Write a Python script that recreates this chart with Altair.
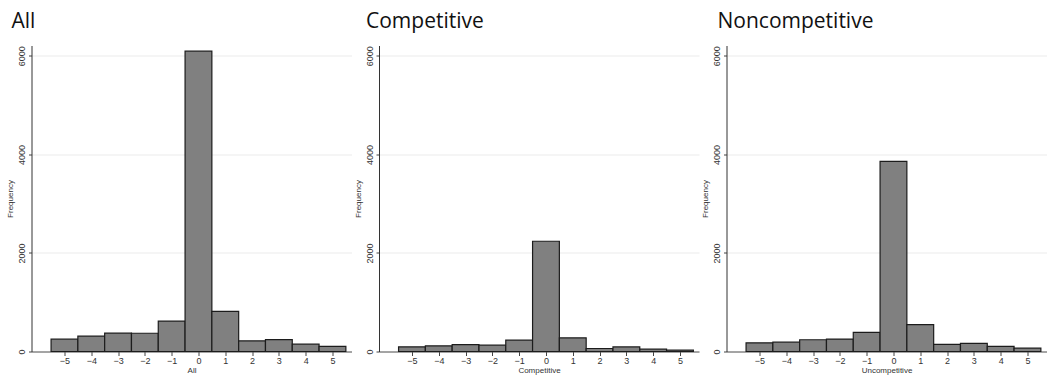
import altair as alt
import pandas as pd

# Histogram bins (integer values, unit-width bins centred on each integer)
bins = [-5, -4, -3, -2, -1, 0, 1, 2, 3, 4, 5]

# Frequencies per bin for each sample
all_counts = [250, 311, 372, 370, 616, 6095, 813, 216, 243, 148, 106]
comp_counts = [95, 115, 140, 128, 230, 2237, 277, 61, 92, 47, 27]
noncomp_counts = [177, 190, 238, 252, 388, 3858, 544, 143, 163, 102, 68]

panel_titles = ["All", "Competitive", "Noncompetitive"]
x_titles = ["All", "Competitive", "Uncompetitive"]
title_shift = [-20, -13, -9]

y_ticks = [0, 2000, 4000, 6000]

AXIS_FONT = "Liberation Sans"
TITLE_FONT = "Open Sans"


def panel(counts, heading, xlabel, dx):
    df = pd.DataFrame({"bin": bins, "count": counts})
    df["lo"] = df["bin"] - 0.5
    df["hi"] = df["bin"] + 0.5
    return (
        alt.Chart(df)
        .mark_rect(fill="#808080", stroke="#1c1c1c", strokeWidth=1.2)
        .encode(
            x=alt.X(
                "lo:Q",
                scale=alt.Scale(domain=[-6.23, 5.71], nice=False, zero=False),
                axis=alt.Axis(
                    values=bins,
                    title=xlabel,
                    grid=False,
                    tickSize=4,
                    tickColor="#444",
                    domainColor="#555",
                    labelFont=AXIS_FONT,
                    labelFontSize=9,
                    labelColor="#333",
                    labelPadding=1,
                    titleFont=AXIS_FONT,
                    titleFontSize=8,
                    titleFontWeight="normal",
                    titleColor="#333",
                    titlePadding=1,
                ),
            ),
            x2="hi:Q",
            y=alt.Y(
                "count:Q",
                scale=alt.Scale(domain=[0, 6210], nice=False),
                axis=alt.Axis(
                    values=y_ticks,
                    format="d",
                    title="Frequency",
                    grid=True,
                    gridColor="#ebebeb",
                    tickSize=3,
                    tickColor="#444",
                    domainColor="#333",
                    labelAngle=270,
                    labelAlign="center",
                    labelBaseline="bottom",
                    labelFont=AXIS_FONT,
                    labelFontSize=9,
                    labelColor="#333",
                    labelPadding=2,
                    titleFont=AXIS_FONT,
                    titleFontSize=8,
                    titleFontWeight="normal",
                    titleColor="#333",
                    titlePadding=3,
                ),
            ),
            y2=alt.datum(0),
        )
        .properties(
            width=320,
            height=306,
            title=alt.TitleParams(
                heading,
                anchor="start",
                frame="group",
                dx=dx,
                offset=14,
                font=TITLE_FONT,
                fontSize=21,
                fontWeight="normal",
                color="#111",
            ),
        )
    )


panels = [
    panel(c, t, xl, d)
    for c, t, xl, d in zip(
        [all_counts, comp_counts, noncomp_counts], panel_titles, x_titles, title_shift
    )
]

chart = (
    alt.hconcat(*panels, spacing=27.5, bounds="flush")
    .properties(padding={"left": 6.5, "top": 10.5, "right": 0, "bottom": 0})
    .configure_view(stroke=None)
)

chart.save("out.html", embed_options={"renderer": "svg", "actions": False})
